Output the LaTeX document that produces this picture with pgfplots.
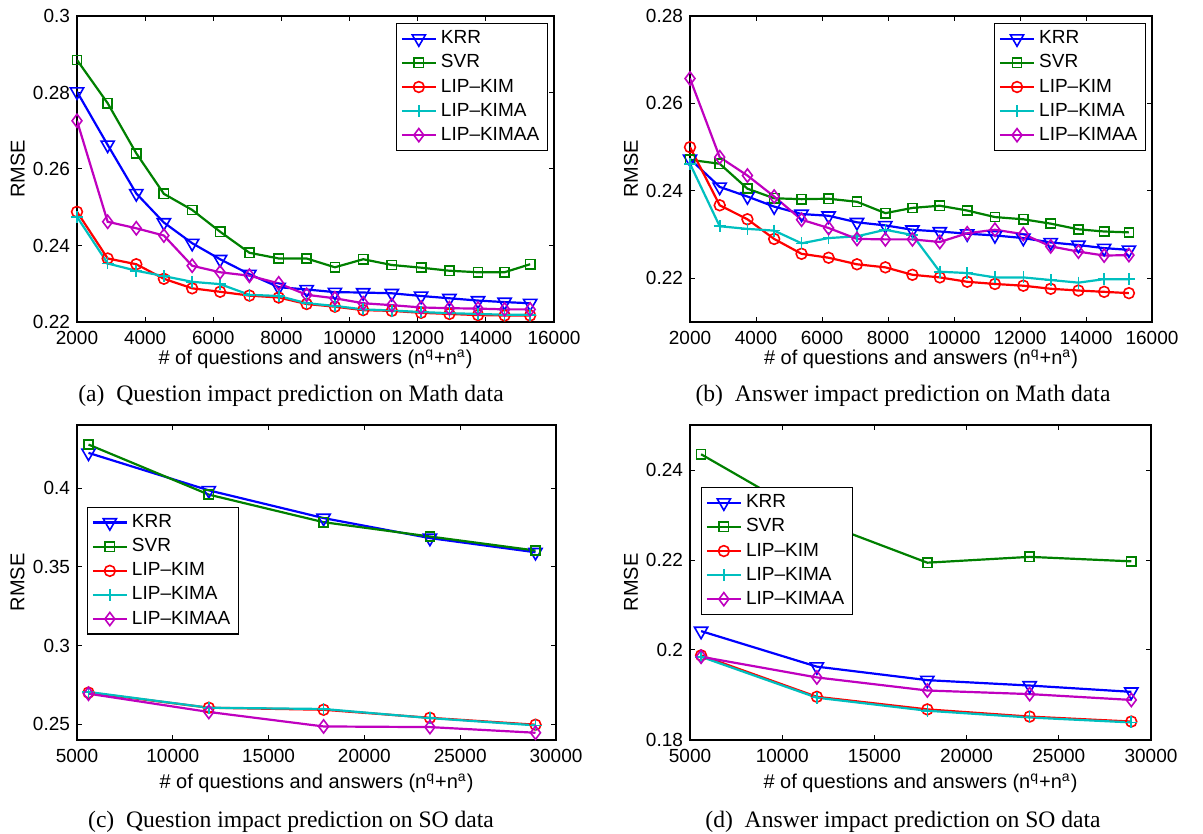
\documentclass[border=0pt]{standalone}
\usepackage{fontspec}
\setmainfont{Liberation Sans}
\newfontfamily\capfont{Liberation Serif}
\usepackage{pgfplots}
\usepackage{pgfplotstable}
\pgfplotsset{compat=1.18}

\definecolor{mblue}{rgb}{0,0,1}
\definecolor{mgreen}{rgb}{0,0.5,0}
\definecolor{mred}{rgb}{1,0,0}
\definecolor{mcyan}{rgb}{0,0.75,0.75}
\definecolor{mmag}{rgb}{0.75,0,0.75}

% x krr svr kim kima kimaa
\pgfplotstableread{
x      krr    svr    kim    kima   kimaa
2000   0.2802 0.2885 0.2488 0.2475 0.2726
2900   0.2663 0.2772 0.2366 0.2353 0.2462
3740   0.2536 0.2641 0.2351 0.2334 0.2445
4550   0.2460 0.2535 0.2313 0.2320 0.2426
5380   0.2406 0.2493 0.2288 0.2305 0.2347
6200   0.2364 0.2436 0.2279 0.2299 0.2330
7060   0.2325 0.2381 0.2269 0.2271 0.2321
7920   0.2291 0.2366 0.2264 0.2268 0.2301
8740   0.2285 0.2366 0.2247 0.2249 0.2271
9570   0.2278 0.2343 0.2240 0.2242 0.2262
10400  0.2277 0.2364 0.2231 0.2233 0.2249
11240  0.2275 0.2349 0.2229 0.2230 0.2244
12100  0.2268 0.2342 0.2224 0.2226 0.2238
12930  0.2262 0.2334 0.2221 0.2223 0.2236
13770  0.2256 0.2330 0.2218 0.2221 0.2235
14550  0.2252 0.2330 0.2217 0.2219 0.2233
15300  0.2249 0.2351 0.2217 0.2219 0.2233
}\mathq

\pgfplotstableread{
x      krr    svr    kim    kima   kimaa
2000   0.2473 0.2471 0.2500 0.2462 0.2657
2900   0.2409 0.2462 0.2367 0.2319 0.2477
3740   0.2387 0.2405 0.2335 0.2313 0.2435
4550   0.2364 0.2383 0.2290 0.2309 0.2387
5380   0.2347 0.2381 0.2256 0.2280 0.2334
6200   0.2343 0.2382 0.2247 0.2292 0.2315
7060   0.2328 0.2375 0.2232 0.2296 0.2290
7920   0.2321 0.2349 0.2225 0.2311 0.2289
8740   0.2311 0.2361 0.2208 0.2299 0.2289
9570   0.2307 0.2366 0.2202 0.2215 0.2283
10400  0.2302 0.2355 0.2192 0.2212 0.2303
11240  0.2298 0.2340 0.2187 0.2202 0.2311
12100  0.2292 0.2335 0.2183 0.2202 0.2301
12930  0.2282 0.2325 0.2176 0.2196 0.2273
13770  0.2276 0.2312 0.2172 0.2190 0.2261
14550  0.2269 0.2307 0.2169 0.2198 0.2252
15300  0.2265 0.2305 0.2166 0.2198 0.2253
}\matha

\pgfplotstableread{
x      krr    svr    kim    kima   kimaa
5600   0.4223 0.4276 0.2701 0.2705 0.2694
11880  0.3985 0.3958 0.2605 0.2605 0.2578
17870  0.3809 0.3783 0.2592 0.2597 0.2486
23420  0.3682 0.3692 0.2541 0.2539 0.2482
28930  0.3592 0.3603 0.2497 0.2493 0.2446
}\soq

\pgfplotstableread{
x      krr    svr    kim    kima   kimaa
5600   0.2042 0.2435 0.1988 0.1985 0.1985
11880  0.1963 0.2287 0.1896 0.1894 0.1939
17870  0.1933 0.2194 0.1868 0.1865 0.1910
23420  0.1921 0.2207 0.1852 0.1850 0.1902
28930  0.1907 0.2197 0.1841 0.1839 0.1889
}\soa

\pgfplotsset{
  rmse/.style={
    scale only axis, anchor=north west,
    tick align=inside, major tick length=2.5pt,
    tick style={black, line width=0.5pt},
    axis line style={line width=0.6pt},
    ticklabel style={font=\fontsize{9.5}{11}\selectfont},
    scaled x ticks=false, scaled y ticks=false,
    /pgf/number format/assume math mode=true,
    /pgf/number format/1000 sep={},
    yticklabel style={/pgf/number format/fixed, /pgf/number format/precision=2},
    xticklabel style={yshift=-1pt},
    xlabel={\# of questions and answers (n\textsuperscript{q}+n\textsuperscript{a})},
    ylabel={RMSE},
    label style={font=\fontsize{10}{12}\selectfont},
    legend style={font=\fontsize{9.5}{11.5}\selectfont, draw=black, line width=0.6pt,
      inner xsep=2pt, inner ysep=1.5pt},
    legend cell align=left,
  },
  krr/.style={mblue, line width=1.1pt, mark=triangle, mark size=3.8pt, mark options={solid, rotate=180, line width=0.8pt}},
  svr/.style={mgreen, line width=1.1pt, mark=square, mark size=2.3pt, mark options={solid, line width=0.8pt}},
  kim/.style={mred, line width=1.1pt, mark=o, mark size=2.7pt, mark options={solid, line width=0.8pt}},
  kima/.style={mcyan, line width=1.1pt, mark=+, mark size=3pt, mark options={solid, line width=0.8pt}},
  kimaa/.style={mmag, line width=1.1pt, mark=diamond, mark size=3.3pt, mark options={solid, line width=0.8pt}},
}

\begin{document}
\begin{tikzpicture}
\path[use as bounding box] (0,0) rectangle (601.5pt,-417pt);

% (a)
\begin{axis}[rmse, at={(38.5pt,-8pt)}, width=238.5pt, height=153pt,
  xmin=2000, xmax=16000, ymin=0.22, ymax=0.3,
  xtick={2000,4000,...,16000}, ytick={0.22,0.24,...,0.30},
  xlabel style={at={(axis description cs:0.5,0)}, anchor=center, yshift=-18.5pt},
  ylabel style={at={(axis description cs:-0.124,0.5)}, anchor=center},
  legend style={at={(0.987,0.977)}, anchor=north east}]
\addplot[krr] table[x=x, y=krr] {\mathq};
\addplot[svr] table[x=x, y=svr] {\mathq};
\addplot[kim] table[x=x, y=kim] {\mathq};
\addplot[kima] table[x=x, y=kima] {\mathq};
\addplot[kimaa] table[x=x, y=kimaa] {\mathq};
\legend{KRR,SVR,LIP--KIM,LIP--KIMA,LIP--KIMAA}
\end{axis}

% (b)
\begin{axis}[rmse, at={(345pt,-8pt)}, width=231pt, height=153pt,
  xmin=2000, xmax=16000, ymin=0.21, ymax=0.28,
  xtick={2000,4000,...,16000}, ytick={0.22,0.24,0.26,0.28},
  xlabel style={at={(axis description cs:0.5,0)}, anchor=center, yshift=-18.5pt},
  ylabel style={at={(axis description cs:-0.128,0.5)}, anchor=center},
  legend style={at={(0.987,0.977)}, anchor=north east}]
\addplot[krr] table[x=x, y=krr] {\matha};
\addplot[svr] table[x=x, y=svr] {\matha};
\addplot[kim] table[x=x, y=kim] {\matha};
\addplot[kima] table[x=x, y=kima] {\matha};
\addplot[kimaa] table[x=x, y=kimaa] {\matha};
\legend{KRR,SVR,LIP--KIM,LIP--KIMA,LIP--KIMAA}
\end{axis}

% (c)
\begin{axis}[rmse, at={(38.5pt,-212.5pt)}, width=239.5pt, height=157.5pt,
  xmin=5000, xmax=30000, ymin=0.24, ymax=0.44,
  xtick={5000,10000,...,30000}, ytick={0.25,0.3,0.35,0.4},
  xlabel style={at={(axis description cs:0.5,0)}, anchor=center, yshift=-21.5pt},
  ylabel style={at={(axis description cs:-0.124,0.5)}, anchor=center},
  legend style={at={(0.021,0.74)}, anchor=north west}]
\addplot[krr] table[x=x, y=krr] {\soq};
\addplot[svr] table[x=x, y=svr] {\soq};
\addplot[kim] table[x=x, y=kim] {\soq};
\addplot[kima] table[x=x, y=kima] {\soq};
\addplot[kimaa] table[x=x, y=kimaa] {\soq};
\legend{KRR,SVR,LIP--KIM,LIP--KIMA,LIP--KIMAA}
\end{axis}

% (d)
\begin{axis}[rmse, at={(345pt,-212.5pt)}, width=230.5pt, height=157.5pt,
  xmin=5000, xmax=30000, ymin=0.18, ymax=0.25,
  xtick={5000,10000,...,30000}, ytick={0.18,0.2,0.22,0.24},
  xlabel style={at={(axis description cs:0.5,0)}, anchor=center, yshift=-21.5pt},
  ylabel style={at={(axis description cs:-0.128,0.5)}, anchor=center},
  legend style={at={(0.024,0.803)}, anchor=north west}]
\addplot[krr] table[x=x, y=krr] {\soa};
\addplot[svr] table[x=x, y=svr] {\soa};
\addplot[kim] table[x=x, y=kim] {\soa};
\addplot[kima] table[x=x, y=kima] {\soa};
\addplot[kimaa] table[x=x, y=kimaa] {\soa};
\legend{KRR,SVR,LIP--KIM,LIP--KIMA,LIP--KIMAA}
\end{axis}

\node[font=\capfont\fontsize{11.8}{14}\selectfont] at (145.5pt,-198pt) {(a)\enspace Question impact prediction on Math data};
\node[font=\capfont\fontsize{11.8}{14}\selectfont] at (451.5pt,-198pt) {(b)\enspace Answer impact prediction on Math data};
\node[font=\capfont\fontsize{11.8}{14}\selectfont] at (145.5pt,-411pt) {(c)\enspace Question impact prediction on SO data};
\node[font=\capfont\fontsize{11.8}{14}\selectfont] at (451.5pt,-411pt) {(d)\enspace Answer impact prediction on SO data};
\end{tikzpicture}
\end{document}
